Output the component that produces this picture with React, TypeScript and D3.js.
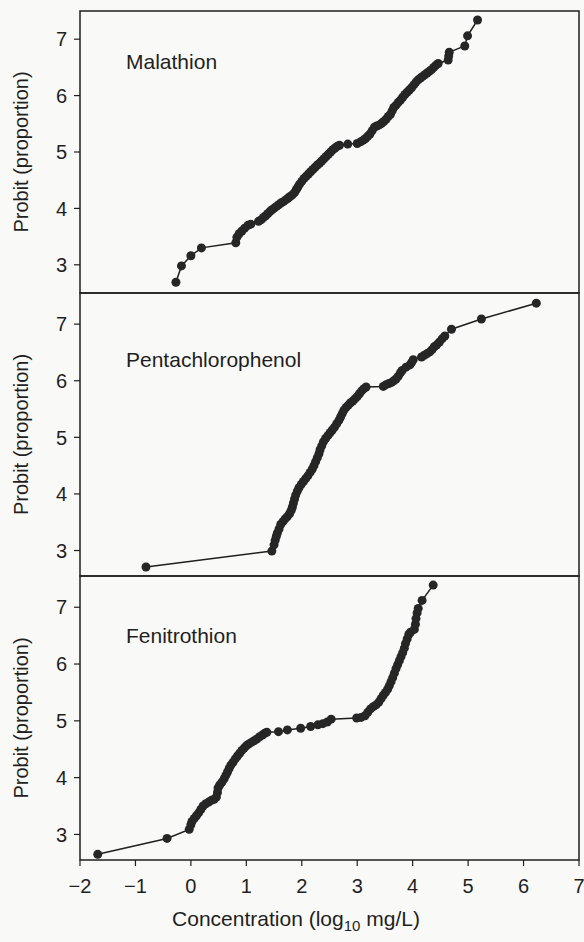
import { useMemo } from 'react';
import * as d3 from 'd3';

// [log10 concentration, probit]
const malathion: [number, number][] = [
  [-0.27, 2.69], [-0.17, 2.98], [0.0, 3.16], [0.19, 3.3], [0.81, 3.39], [0.83, 3.49],
  [0.87, 3.55], [0.92, 3.6], [0.97, 3.65], [1.03, 3.7], [1.08, 3.72],
  [1.22, 3.77], [1.27, 3.8], [1.31, 3.84], [1.35, 3.87], [1.39, 3.91], [1.43, 3.95],
  [1.47, 3.98], [1.51, 4.01], [1.55, 4.04], [1.59, 4.07], [1.63, 4.1], [1.67, 4.12],
  [1.71, 4.15], [1.75, 4.18], [1.79, 4.21], [1.83, 4.24], [1.87, 4.28], [1.9, 4.33],
  [1.93, 4.38], [1.96, 4.43], [2.0, 4.48], [2.04, 4.53], [2.08, 4.57], [2.12, 4.61],
  [2.16, 4.65], [2.2, 4.69], [2.24, 4.73], [2.28, 4.77], [2.32, 4.8], [2.36, 4.84],
  [2.4, 4.88], [2.44, 4.92], [2.48, 4.96], [2.52, 5.0], [2.56, 5.04], [2.6, 5.07],
  [2.64, 5.1], [2.68, 5.12], [2.83, 5.14], [3.0, 5.15], [3.06, 5.18], [3.11, 5.21],
  [3.15, 5.24], [3.19, 5.28], [3.23, 5.32], [3.27, 5.38], [3.31, 5.44], [3.35, 5.46],
  [3.4, 5.48], [3.44, 5.51], [3.48, 5.54], [3.52, 5.58], [3.56, 5.63], [3.6, 5.67],
  [3.63, 5.73], [3.66, 5.79], [3.7, 5.83], [3.74, 5.88], [3.78, 5.92], [3.82, 5.97],
  [3.86, 6.02], [3.9, 6.06], [3.94, 6.1], [3.98, 6.14], [4.02, 6.19], [4.06, 6.24],
  [4.1, 6.28], [4.14, 6.31], [4.18, 6.34], [4.22, 6.37], [4.26, 6.4], [4.3, 6.43],
  [4.34, 6.46], [4.38, 6.5], [4.42, 6.54], [4.46, 6.57], [4.64, 6.63], [4.65, 6.7],
  [4.66, 6.77], [4.94, 6.88], [4.99, 7.06], [5.17, 7.34],
];

const pentachlorophenol: [number, number][] = [
  [-0.81, 2.71], [1.46, 2.99], [1.5, 3.1], [1.52, 3.18], [1.54, 3.25], [1.56, 3.31],
  [1.59, 3.38], [1.62, 3.46], [1.66, 3.51], [1.7, 3.56], [1.74, 3.6], [1.78, 3.65],
  [1.81, 3.71], [1.83, 3.77], [1.85, 3.84], [1.87, 3.91], [1.89, 3.98], [1.92, 4.05],
  [1.95, 4.11], [1.99, 4.17], [2.03, 4.22], [2.07, 4.27], [2.11, 4.32], [2.15, 4.38],
  [2.19, 4.44], [2.22, 4.5], [2.25, 4.57], [2.28, 4.64], [2.31, 4.71], [2.33, 4.78],
  [2.36, 4.85], [2.39, 4.92], [2.43, 4.98], [2.47, 5.03], [2.51, 5.08], [2.55, 5.13],
  [2.59, 5.18], [2.63, 5.24], [2.67, 5.3], [2.7, 5.36], [2.73, 5.42], [2.76, 5.48],
  [2.8, 5.53], [2.84, 5.57], [2.88, 5.61], [2.92, 5.64], [2.96, 5.68], [3.0, 5.72],
  [3.04, 5.77], [3.08, 5.82], [3.12, 5.86], [3.16, 5.89], [3.47, 5.9], [3.52, 5.93],
  [3.57, 5.95], [3.62, 5.97], [3.66, 6.0], [3.7, 6.03], [3.74, 6.08], [3.78, 6.14],
  [3.81, 6.18], [3.88, 6.24], [3.95, 6.28], [3.98, 6.32], [4.01, 6.37], [4.16, 6.42],
  [4.21, 6.45], [4.26, 6.48], [4.31, 6.51], [4.35, 6.55], [4.39, 6.6], [4.43, 6.63],
  [4.48, 6.68], [4.53, 6.74], [4.58, 6.79], [4.7, 6.91], [5.24, 7.09], [6.23, 7.37],
];

const fenitrothion: [number, number][] = [
  [-1.68, 2.65], [-0.43, 2.93], [-0.03, 3.09], [0.0, 3.17], [0.02, 3.23], [0.06, 3.28],
  [0.1, 3.33], [0.14, 3.38], [0.18, 3.44], [0.22, 3.5], [0.27, 3.54], [0.32, 3.57],
  [0.37, 3.6], [0.42, 3.62], [0.46, 3.66], [0.48, 3.74], [0.49, 3.82], [0.52, 3.87],
  [0.56, 3.92], [0.6, 3.98], [0.63, 4.04], [0.66, 4.1], [0.69, 4.16], [0.72, 4.22],
  [0.76, 4.27], [0.8, 4.33], [0.84, 4.38], [0.88, 4.43], [0.92, 4.48], [0.96, 4.52],
  [1.0, 4.56], [1.04, 4.59], [1.09, 4.62], [1.14, 4.65], [1.19, 4.68], [1.24, 4.72],
  [1.29, 4.75], [1.33, 4.78], [1.37, 4.8], [1.58, 4.81], [1.74, 4.84], [1.98, 4.87],
  [2.16, 4.9], [2.29, 4.93], [2.38, 4.95], [2.46, 4.98], [2.53, 5.03], [2.99, 5.05],
  [3.07, 5.06], [3.14, 5.09], [3.19, 5.15], [3.24, 5.21], [3.29, 5.25], [3.34, 5.28],
  [3.39, 5.33], [3.43, 5.39], [3.47, 5.45], [3.51, 5.5], [3.55, 5.56], [3.58, 5.62],
  [3.61, 5.69], [3.64, 5.76], [3.67, 5.84], [3.7, 5.92], [3.73, 5.99], [3.76, 6.06],
  [3.79, 6.13], [3.82, 6.2], [3.85, 6.28], [3.87, 6.36], [3.9, 6.44], [3.93, 6.52],
  [3.96, 6.56], [4.03, 6.61], [4.05, 6.7], [4.06, 6.8], [4.08, 6.9], [4.1, 6.98],
  [4.17, 7.12], [4.37, 7.39],
];

const chemicals = ['Malathion', 'Pentachlorophenol', 'Fenitrothion'];
const seriesList = [malathion, pentachlorophenol, fenitrothion];
const yTicks = [3, 4, 5, 6, 7];
const xTicks = [-2, -1, 0, 1, 2, 3, 4, 5, 6, 7];
const xTickLabels = ['\u22122', '\u22121', '0', '1', '2', '3', '4', '5', '6', '7'];

const W = 584;
const H = 942;
const FONT = '"Liberation Sans", Arial, Helvetica, sans-serif';
const INK = '#1f1f1f';

// panel frames (top, bottom) and probit domains
const panels = [
  { top: 11, bottom: 293, domain: [2.5, 7.5] },
  { top: 293, bottom: 576, domain: [2.55, 7.55] },
  { top: 576, bottom: 860, domain: [2.55, 7.55] },
];
const left = 80;
const right = 579;

export default function App() {
  const x = useMemo(() => d3.scaleLinear().domain([-2, 7]).range([left, right]), []);

  return (
    <svg
      width={W}
      height={H}
      style={{ position: 'absolute', left: 0, top: 0, background: '#f9f9f7' }}
      fontFamily={FONT}
    >
      <rect x={0} y={0} width={W} height={H} fill="#f9f9f7" />
      {panels.map((p, i) => {
        const y = d3.scaleLinear().domain(p.domain).range([p.bottom, p.top]);
        const line = d3
          .line<[number, number]>()
          .x(d => x(d[0]))
          .y(d => y(d[1]));
        const data = seriesList[i];
        const mid = (p.top + p.bottom) / 2;
        return (
          <g key={chemicals[i]}>
            <rect
              x={left}
              y={p.top}
              width={right - left}
              height={p.bottom - p.top}
              fill="none"
              stroke={INK}
              strokeWidth={1.5}
            />
            {yTicks.map(t => (
              <g key={t}>
                <line x1={left - 6} x2={left} y1={y(t)} y2={y(t)} stroke={INK} strokeWidth={1.2} />
                <text
                  x={left - 13}
                  y={y(t)}
                  dy="0.36em"
                  textAnchor="end"
                  fontSize={20}
                  fill={INK}
                >
                  {t}
                </text>
              </g>
            ))}
            <text
              transform={`translate(28, ${mid}) rotate(-90)`}
              textAnchor="middle"
              fontSize={20}
              fill={INK}
            >
              Probit (proportion)
            </text>
            <text x={126} y={[69, 367, 643][i]} fontSize={21} fill={INK}>
              {chemicals[i]}
            </text>
            <path d={line(data) || ''} fill="none" stroke={INK} strokeWidth={1.5} />
            {data.map((d, j) => (
              <circle key={j} cx={x(d[0])} cy={y(d[1])} r={4.5} fill="#262626" />
            ))}
          </g>
        );
      })}
      {xTicks.map((t, i) => (
        <g key={t}>
          <line x1={x(t)} x2={x(t)} y1={860} y2={866} stroke={INK} strokeWidth={1.2} />
          <text x={x(t)} y={893} textAnchor="middle" fontSize={20} fill={INK}>
            {xTickLabels[i]}
          </text>
        </g>
      ))}
      <text x={296} y={926} textAnchor="middle" fontSize={21} fill={INK}>
        Concentration (log
        <tspan fontSize={15} dy={5}>10</tspan>
        <tspan dy={-5}> mg/L)</tspan>
      </text>
    </svg>
  );
}
